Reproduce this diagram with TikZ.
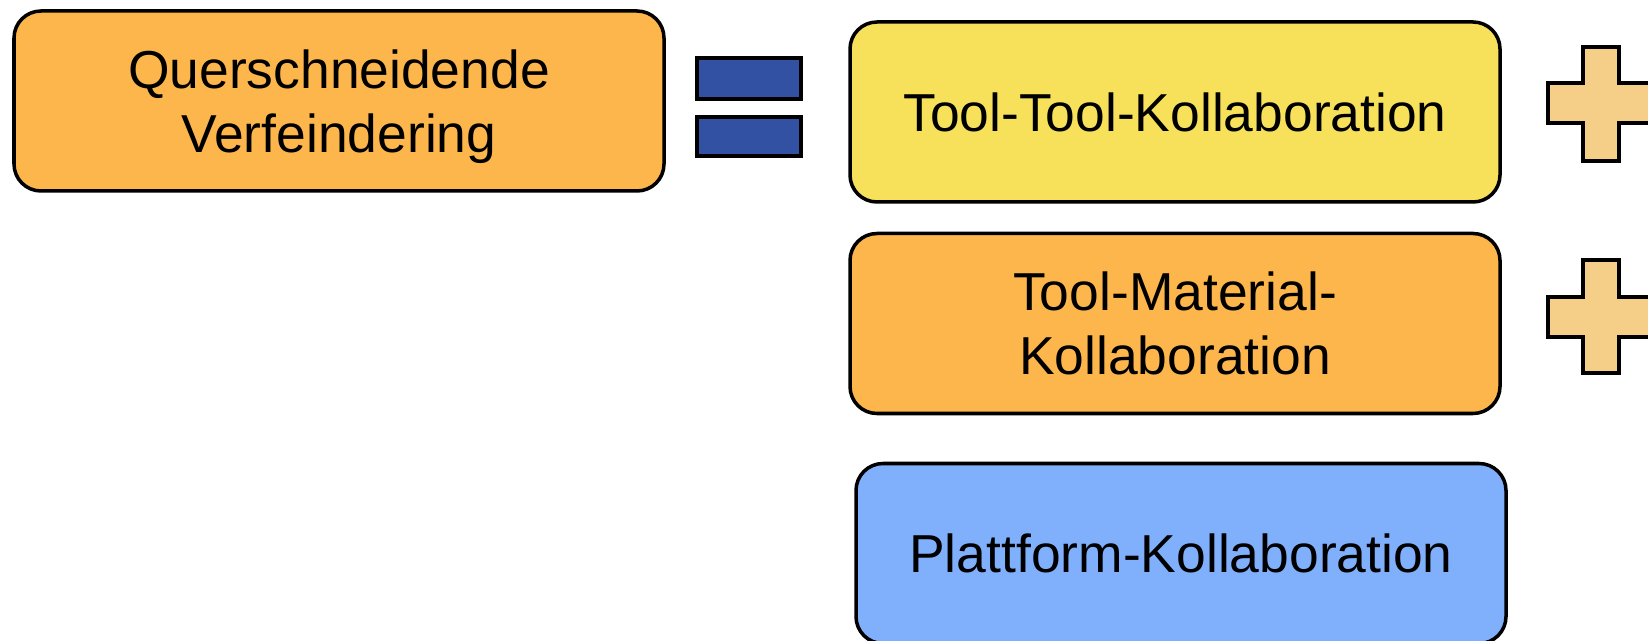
\documentclass[tikz,border=0pt]{standalone}
\usepackage{fontspec}
\setmainfont{Liberation Sans}
\definecolor{boxorange}{HTML}{FDB64B}
\definecolor{boxyellow}{HTML}{F8E15A}
\definecolor{boxblue}{HTML}{80B0FC}
\definecolor{barblue}{HTML}{3251A2}
\definecolor{plusfill}{HTML}{F5CF88}
\begin{document}
\begin{tikzpicture}[
	box/.style = {draw, line width = 1pt, rounded corners = .27cm,
		minimum width = 6.5cm, minimum height = 1.8cm, align = center,
		font = \fontsize{15.2pt}{18.1pt}\selectfont},
	bar/.style = {draw, line width = 1pt, fill = barblue},
	plus/.style = {draw, line width = 1pt, fill = plusfill}
	]
	\useasboundingbox (0, 0) rectangle (16.48, 6.41);
	\clip (0, 0) rectangle (16.48, 6.41);
	
	% boxes
	\node[box, fill = boxorange] (quer) at (3.39, 5.40) {Querschneidende\\\smash{Verfeindering}};
	\node[box, fill = boxyellow] (tooltool) at (11.75, 5.29) {Tool-Tool-Kollaboration};
	\node[box, fill = boxorange] (toolmat) at (11.75, 3.175) {Tool-Material-\\Kollaboration};
	\node[box, fill = boxblue] (platt) at (11.81, 0.875) {Plattform-Kollaboration};
	
	% equals sign
	\draw[bar] (6.97, 5.42) rectangle (8.01, 5.83);
	\draw[bar] (6.97, 4.85) rectangle (8.01, 5.24);
	
	% plus signs
	\draw[plus] (15.83, 5.94) -- (16.19, 5.94) -- (16.19, 5.58) -- (16.54, 5.58)
		-- (16.54, 5.18) -- (16.19, 5.18) -- (16.19, 4.80) -- (15.83, 4.80)
		-- (15.83, 5.18) -- (15.48, 5.18) -- (15.48, 5.58) -- (15.83, 5.58) -- cycle;
	\draw[plus] (15.83, 3.81) -- (16.19, 3.81) -- (16.19, 3.44) -- (16.54, 3.44)
		-- (16.54, 3.04) -- (16.19, 3.04) -- (16.19, 2.68) -- (15.83, 2.68)
		-- (15.83, 3.04) -- (15.48, 3.04) -- (15.48, 3.44) -- (15.83, 3.44) -- cycle;
\end{tikzpicture}
\end{document}
